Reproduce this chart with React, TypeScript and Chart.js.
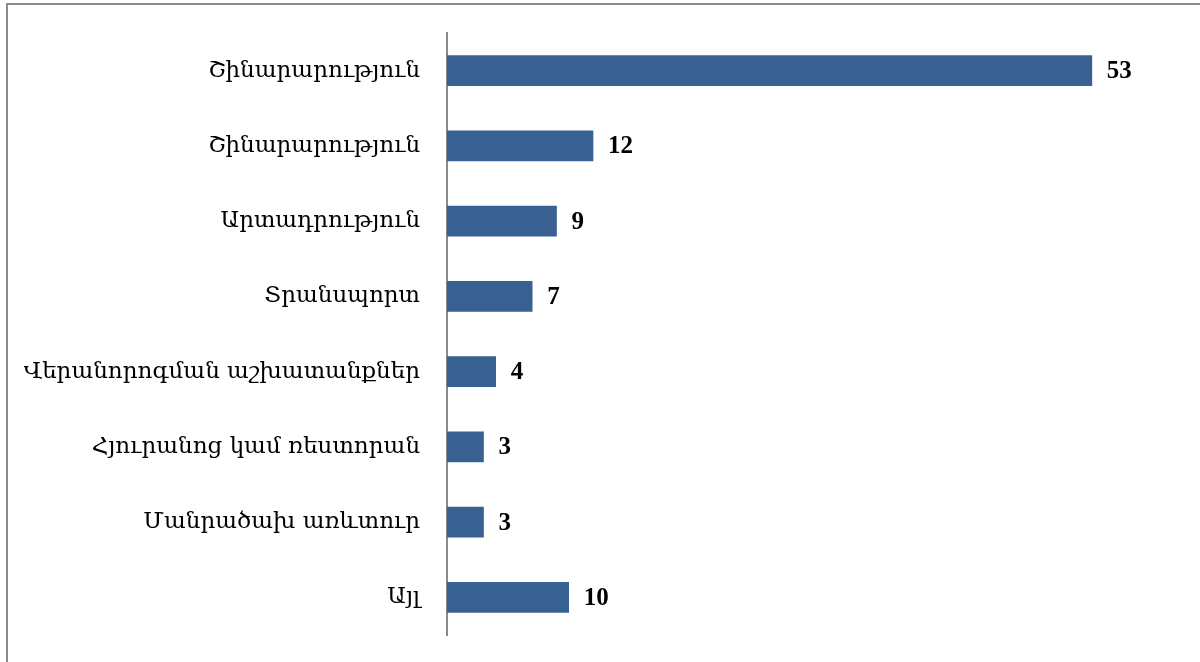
import React, { useEffect, useRef } from "react";
import { Chart, registerables } from "chart.js";

Chart.register(...registerables);

const categories = [
  "Շինարարություն",
  "Շինարարություն",
  "Արտադրություն",
  "Տրանսպորտ",
  "Վերանորոգման աշխատանքներ",
  "Հյուրանոց կամ ռեստորան",
  "Մանրածախ առևտուր",
  "Այլ",
];
const values = [53, 12, 9, 7, 4, 3, 3, 10];
const xMax = 60;

const valueLabels = {
  id: "valueLabels",
  afterDatasetsDraw(chart: any) {
    const ctx = chart.ctx;
    const meta = chart.getDatasetMeta(0);
    ctx.save();
    ctx.fillStyle = "#000";
    ctx.font = "bold 25px 'Liberation Serif', serif";
    ctx.textAlign = "left";
    ctx.textBaseline = "middle";
    meta.data.forEach((el: any, i: number) => {
      ctx.fillText(String(values[i]), el.x + 15, el.y + 1);
    });
    ctx.restore();
  },
};

export default function App() {
  const ref = useRef<HTMLCanvasElement>(null);
  useEffect(() => {
    if (!ref.current) return;
    const chart = new Chart(ref.current, {
      type: "bar",
      data: {
        labels: categories,
        datasets: [
          {
            data: values,
            backgroundColor: "#386192",
            borderWidth: 0,
            barThickness: 30,
          },
        ],
      },
      options: {
        indexAxis: "y",
        animation: false,
        responsive: false,
        layout: { padding: { top: 33, bottom: 27, right: 23, left: 0 } },
        plugins: { legend: { display: false }, tooltip: { enabled: false } },
        scales: {
          x: { display: false, min: 0, max: xMax },
          y: {
            grid: { display: false, drawTicks: false },
            border: { display: true, color: "#8a8a8a", width: 2 },
            ticks: {
              color: "#000",
              padding: 27,
              font: { family: "'DejaVu Serif', serif", size: 23 },
            },
            afterFit: (s: any) => {
              s.width = 447;
              s.paddingTop = 0;
              s.paddingBottom = 0;
            },
          },
        },
      },
      plugins: [valueLabels],
    });
    return () => chart.destroy();
  }, []);
  return (
    <div style={{ position: "absolute", left: 0, top: 0, width: 1200, height: 662, background: "#fff", overflow: "hidden" }}>
      <div
        style={{
          position: "absolute",
          left: 6,
          top: 3,
          width: 1300,
          height: 800,
          border: "2px solid #8c8c8c",
          boxSizing: "border-box",
        }}
      />
      <canvas ref={ref} width={1200} height={662} style={{ position: "absolute", left: 0, top: 0 }} />
    </div>
  );
}
